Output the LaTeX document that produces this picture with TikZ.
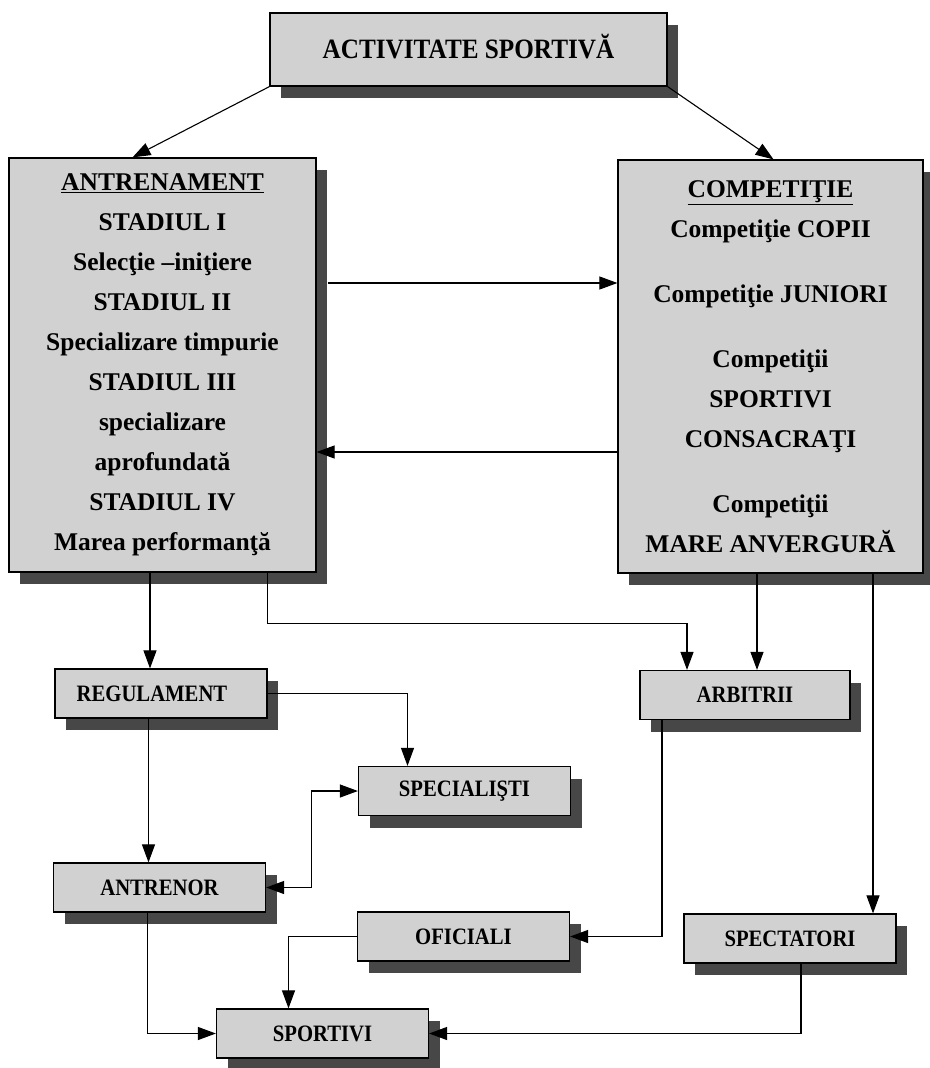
\documentclass[tikz,border=0pt]{standalone}
\usepackage{fontspec}
\setmainfont{Liberation Serif}
\usetikzlibrary{shadows,arrows.meta}
\newcommand{\cond}[1]{\scalebox{0.88}[1]{#1}}

\begin{document}
\begin{tikzpicture}[x=1pt, y=-1pt, line width=1.1pt, >={Triangle[length=18pt,width=13pt]},
    box/.style={draw, rectangle, align=center, fill=black!18, line width=1.2pt,
        drop shadow={shadow xshift=11pt, shadow yshift=-12pt, fill=black!72, opacity=1}},
    bigbox/.style={box, minimum width=307pt, minimum height=414pt, font=\bfseries\fontsize{25.5}{40}\selectfont},
    smallbox/.style={box, minimum width=212pt, minimum height=49pt, font=\bfseries\fontsize{23.5}{25}\selectfont}]
    \useasboundingbox (0,0) rectangle (929,1068);
    % Nodes
    \node [box, minimum width=397pt, minimum height=73pt, font=\bfseries\fontsize{28}{30}\selectfont] (activ) at (468.5,49.5) {\raisebox{6pt}{\scalebox{0.9}[1]{ACTIVITATE SPORTIVĂ}}};
    \node [bigbox] (antr) at (162.5,365) {\underline{ANTRENAMENT}\\ STADIUL I\\ Selecţie –iniţiere\\ STADIUL II\\ Specializare timpurie\\ STADIUL III\\ specializare\\ aprofundată\\ STADIUL IV\\ Marea performanţă};
    \node [bigbox, minimum width=305pt, minimum height=413pt] (comp) at (770.5,366.5) {\underline{COMPETIŢIE}\\ Competiţie COPII\\[25pt] Competiţie JUNIORI\\[25pt] Competiţii\\ SPORTIVI\\ CONSACRAŢI\\[25pt] Competiţii\\ MARE ANVERGURĂ};
    \node [smallbox] (regul) at (161,693.5) {\cond{REGULAMENT}\hspace*{18pt}};
    \node [smallbox, minimum width=210pt] (arbitr) at (745,695) {\cond{ARBITRII}};
    \node [smallbox] (specialist) at (464.5,791) {\cond{SPECIALIŞTI}};
    \node [smallbox] (antrenor) at (159.5,887.5) {\cond{ANTRENOR}};
    \node [smallbox] (oficial) at (463.5,936.5) {\cond{OFICIALI}};
    \node [smallbox] (spectator) at (790,938.5) {\cond{SPECTATORI}};
    \node [smallbox] (sportiv) at (322.5,1033.5) {\cond{SPORTIVI}};
    % Arrows
    \draw[->] (activ.south west) -- ([xshift=-30pt]antr.north);
    \draw[->] (activ.south east) -- ([xshift=3pt]comp.north);
    \draw[->] ([xshift=11pt,yshift=82pt]antr.east) -- ([yshift=82pt]antr.east -| comp.west);
    \draw[->] ([yshift=-87pt]antr.east -| comp.west) -- ([yshift=-87pt]antr.east);
    \draw[->] ([xshift=-11pt]regul.north |- antr.south) -- ([xshift=-11pt]regul.north);
    \draw[->] ([xshift=105pt]antr.south) -- ++(0,51) -| ([xshift=-58pt]arbitr.north);
    \draw[->] ([xshift=12pt]arbitr.north |- comp.south) -- ([xshift=12pt]arbitr.north);
    \draw[->] ([xshift=83pt]spectator.north |- comp.south) -- ([xshift=83pt]spectator.north);
    \draw[->] (regul.east) -| ([xshift=-57pt]specialist.north);
    \draw[->] ([xshift=-11pt]antrenor.north |- regul.south) -- ([xshift=-11pt]antrenor.north);
    \draw[<->] (specialist.west) -- ++(-46,0) |- (antrenor.east);
    \draw[->] ([xshift=-83pt]arbitr.south) |- (oficial.east);
    \draw[->] (oficial.west) -| ([xshift=-34pt]sportiv.north);
    \draw[->] ([xshift=-12pt]antrenor.south) |- (sportiv.west);
    \draw[->] ([xshift=11pt]spectator.south) |- (sportiv.east);
\end{tikzpicture}
\end{document}
